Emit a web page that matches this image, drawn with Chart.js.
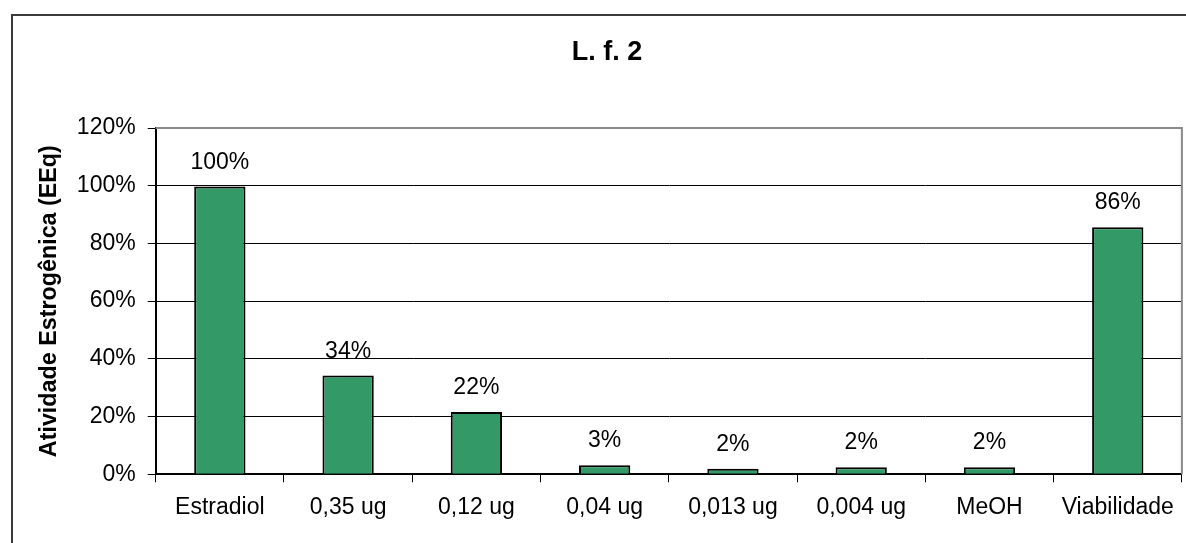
<!DOCTYPE html>
<html>
<head>
<meta charset="utf-8">
<script src="https://cdn.jsdelivr.net/npm/chart.js@4.4.1/dist/chart.umd.min.js"></script>
<style>
  html, body { margin: 0; padding: 0; background: #fff; }
  #wrap { width: 1186px; height: 543px; }
</style>
</head>
<body>
<div id="wrap"><canvas id="c" width="1186" height="543"></canvas></div>
<script>
// Estrogenic activity per sample
const categories = ['Estradiol', '0,35 ug', '0,12 ug', '0,04 ug', '0,013 ug', '0,004 ug', 'MeOH', 'Viabilidade'];
const activity = [99.7, 34.2, 21.6, 3.1, 1.9, 2.4, 2.4, 85.6];
const yTickValues = [0, 20, 40, 60, 80, 100, 120];
const chartTitle = 'L. f. 2';
const yAxisTitle = 'Atividade Estrogênica (EEq)';

const FONT = '"Liberation Sans", Arial, sans-serif';
Chart.defaults.font.family = FONT;
Chart.defaults.color = '#000';

// White background plus the outer frame around the whole chart
const framePlugin = {
  id: 'frame',
  beforeDraw(chart) {
    const ctx = chart.ctx;
    ctx.save();
    ctx.fillStyle = '#fff';
    ctx.fillRect(0, 0, chart.width, chart.height);
    ctx.strokeStyle = '#3a3a3a';
    ctx.lineWidth = 2;
    ctx.strokeRect(12, 15, chart.width + 20, chart.height + 20);
    ctx.restore();
  }
};

// Chart heading
const headingPlugin = {
  id: 'heading',
  afterDraw(chart) {
    const ctx = chart.ctx;
    ctx.save();
    ctx.font = 'bold 27px ' + FONT;
    ctx.fillStyle = '#000';
    ctx.textAlign = 'center';
    ctx.textBaseline = 'middle';
    ctx.fillText(chartTitle, 607, 53);
    ctx.restore();
  }
};

// Grey border on the top and right of the plot area
const plotBorderPlugin = {
  id: 'plotBorder',
  afterDatasetsDraw(chart) {
    const a = chart.chartArea;
    const ctx = chart.ctx;
    ctx.save();
    ctx.strokeStyle = '#8a8a8a';
    ctx.lineWidth = 2;
    ctx.beginPath();
    ctx.moveTo(a.left, a.top);
    ctx.lineTo(a.right, a.top);
    ctx.lineTo(a.right, a.bottom);
    ctx.stroke();
    ctx.restore();
  }
};

// Percentage labels above each bar
const valueLabelPlugin = {
  id: 'valueLabels',
  afterDatasetsDraw(chart) {
    const ctx = chart.ctx;
    const meta = chart.getDatasetMeta(0);
    const values = chart.data.datasets[0].data;
    ctx.save();
    ctx.font = '23px ' + FONT;
    ctx.fillStyle = '#000';
    ctx.textAlign = 'center';
    ctx.textBaseline = 'alphabetic';
    meta.data.forEach((bar, i) => {
      ctx.fillText(Math.round(values[i]) + '%', bar.x, bar.y - 18);
    });
    ctx.restore();
  }
};

new Chart(document.getElementById('c'), {
  type: 'bar',
  data: {
    labels: categories,
    datasets: [{
      data: activity,
      backgroundColor: '#339966',
      borderColor: '#000',
      borderWidth: 2,
      barPercentage: 0.4,
      categoryPercentage: 1.0
    }]
  },
  options: {
    responsive: false,
    animation: false,
    layout: { padding: { top: 128, right: 3, bottom: 0, left: 0 } },
    plugins: {
      legend: { display: false },
      tooltip: { enabled: false },
      title: { display: false }
    },
    scales: {
      x: {
        type: 'category',
        offset: true,
        grid: {
          offset: true,
          drawOnChartArea: false,
          drawTicks: true,
          tickLength: 8,
          color: '#000',
          lineWidth: 1
        },
        border: { color: '#000', width: 2 },
        ticks: {
          font: { size: 23 },
          color: '#000',
          padding: 12,
          maxRotation: 0,
          autoSkip: false
        },
        afterFit(scale) { scale.height = 68.7; }
      },
      y: {
        min: 0,
        max: 120,
        afterBuildTicks(scale) {
          scale.ticks = yTickValues.map(v => ({ value: v }));
        },
        grid: {
          color: '#000',
          lineWidth: 1,
          drawTicks: true,
          tickLength: 8
        },
        border: { color: '#000', width: 2 },
        ticks: {
          font: { size: 23 },
          color: '#000',
          padding: 12,
          callback: v => v + '%'
        },
        title: {
          display: true,
          text: yAxisTitle,
          font: { size: 23.3, weight: 'bold' },
          color: '#000',
          padding: { top: 36, bottom: 0 }
        },
        afterFit(scale) { scale.width = 155.7; }
      }
    }
  },
  plugins: [framePlugin, plotBorderPlugin, valueLabelPlugin, headingPlugin]
});
</script>
</body>
</html>
